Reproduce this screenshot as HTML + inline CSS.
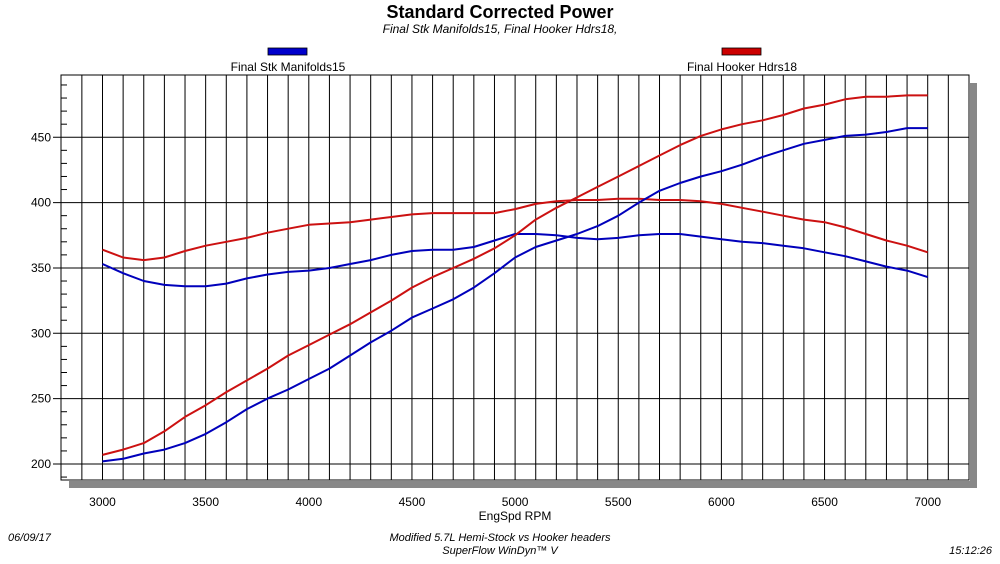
<!DOCTYPE html>
<html><head><meta charset="utf-8"><style>
body{margin:0;background:#fff;width:1000px;height:559px;overflow:hidden;font-family:"Liberation Sans",sans-serif}
</style></head><body>
<svg width="1000" height="559" xmlns="http://www.w3.org/2000/svg" font-family="Liberation Sans, sans-serif">
<text x="500" y="18" text-anchor="middle" font-size="18" font-weight="bold">Standard Corrected Power</text>
<text x="500" y="33" text-anchor="middle" font-size="12" font-style="italic">Final Stk Manifolds15, Final Hooker Hdrs18,</text>
<g>
<rect x="268" y="48" width="39" height="7" fill="#0000cc" stroke="#000" stroke-width="0.8"/>
<text x="288" y="71" text-anchor="middle" font-size="12">Final Stk Manifolds15</text>
<rect x="722" y="48" width="39" height="7" fill="#cc0000" stroke="#000" stroke-width="0.8"/>
<text x="742" y="71" text-anchor="middle" font-size="12">Final Hooker Hdrs18</text>
</g>
<rect x="970" y="83" width="7" height="405" fill="#888"/>
<rect x="69" y="481" width="908" height="7" fill="#888"/>
<rect x="61" y="75" width="908" height="405" fill="#fff" stroke="#000" stroke-width="1"/>
<g id="grid"></g>
<g id="series"></g>
<text x="8" y="541" font-size="11" font-style="italic">06/09/17</text>
<text x="500" y="541" text-anchor="middle" font-size="11" font-style="italic">Modified 5.7L Hemi-Stock vs Hooker headers</text>
<text x="500" y="554" text-anchor="middle" font-size="11" font-style="italic">SuperFlow WinDyn™ V</text>
<text x="992" y="554" text-anchor="end" font-size="11" font-style="italic">15:12:26</text>
</svg>
<script>
const rpm=[3000,3100,3200,3300,3400,3500,3600,3700,3800,3900,4000,4100,4200,4300,4400,4500,4600,4700,4800,4900,5000,5100,5200,5300,5400,5500,5600,5700,5800,5900,6000,6100,6200,6300,6400,6500,6600,6700,6800,6900,7000];
const hookerTorque=[364,358,356,358,363,367,370,373,377,380,383,384,385,387,389,391,392,392,392,392,395,399,401,402,402,403,403,402,402,401,399,396,393,390,387,385,381,376,371,367,362];
const stockTorque=[353,346,340,337,336,336,338,342,345,347,348,350,353,356,360,363,364,364,366,371,376,376,375,373,372,373,375,376,376,374,372,370,369,367,365,362,359,355,351,348,343];
const hookerPower=[207,211,216,225,236,245,255,264,273,283,291,299,307,316,325,335,343,350,357,365,375,387,396,404,412,420,428,436,444,451,456,460,463,467,472,475,479,481,481,482,482];
const stockPower=[202,204,208,211,216,223,232,242,250,257,265,273,283,293,302,312,319,326,335,346,358,366,371,376,382,390,400,409,415,420,424,429,435,440,445,448,451,452,454,457,457];
const xTicks=[3000,3500,4000,4500,5000,5500,6000,6500,7000];
const yTicks=[200,250,300,350,400,450];
const NS="http://www.w3.org/2000/svg";
const L=61,R=969,T=75,B=480;
function xs(v){return 102.5+(v-3000)*0.2063;}
function ys(v){return 464-(v-200)*1.307;}
const grid=document.getElementById('grid');
function mk(tag,attrs,parent){const e=document.createElementNS(NS,tag);for(const k in attrs)e.setAttribute(k,attrs[k]);parent.appendChild(e);return e;}
for(let r=2900;r<=7100;r+=100){
  const l=mk('line',{x1:xs(r),x2:xs(r),y1:T,y2:B,stroke:'#000','stroke-width':1},grid);
  
  
}
for(let v=190;v<=490;v+=10){
  const y=ys(v);
  if(y<T||y>B)continue;
  const isMajor=v%50===0;
  const l=mk('line',{x1:isMajor?L-8:L,x2:isMajor?R:L+6,y1:y,y2:y,stroke:'#000','stroke-width':1},grid);
  
  
}
yTicks.forEach(v=>{
  const t=mk('text',{x:L-10,y:ys(v)+4,'text-anchor':'end','font-size':12},grid);
  t.textContent=v;
  
  
});
xTicks.forEach(v=>{
  const t=mk('text',{x:xs(v),y:506,'text-anchor':'middle','font-size':12},grid);
  t.textContent=v;
  
  
});
const xt=mk('text',{x:515,y:520,'text-anchor':'middle','font-size':12},grid);
xt.textContent='EngSpd RPM';


const ser=document.getElementById('series');
function line(vals,color,name){
  const p=mk('polyline',{points:vals.map((v,i)=>xs(rpm[i]).toFixed(1)+','+ys(v).toFixed(1)).join(' '),fill:'none',stroke:color,'stroke-width':2,'stroke-linejoin':'round'},ser);
  
  
}
line(hookerTorque,'#cc1111','hooker-torque-line');
line(stockTorque,'#0000bb','stock-torque-line');
line(hookerPower,'#cc1111','hooker-power-line');
line(stockPower,'#0000bb','stock-power-line');
</script>
</body></html>
